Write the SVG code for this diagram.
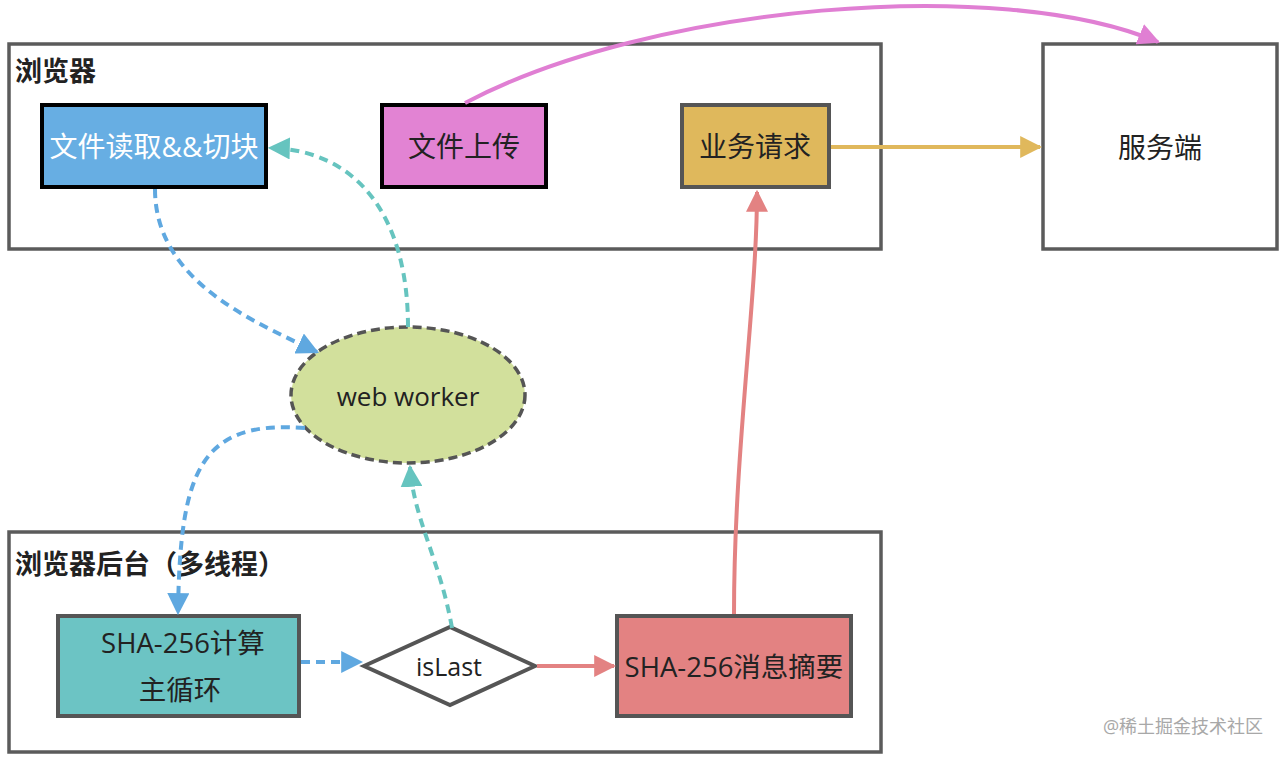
<svg xmlns="http://www.w3.org/2000/svg" width="1285" height="758" viewBox="0 0 1285 758">
<style>
text{font-family:"Open Sans","Noto Sans CJK SC",sans-serif;}
.title{font-size:27px;font-weight:bold;fill:#222;}
.lbl{font-size:28px;fill:#222;text-anchor:middle;dominant-baseline:central;}
.frame{fill:#fff;stroke:#5b5b5b;stroke-width:3.5;}
.node{stroke-width:4;}
.dash{fill:none;stroke-width:4;stroke-dasharray:9 6;}
</style>
<defs>
<marker id="aBlue" viewBox="0 0 10 10" refX="9" refY="5" markerWidth="5.5" markerHeight="5.5" orient="auto" markerUnits="strokeWidth"><path d="M0,0 L10,5 L0,10 z" fill="#5fa8e0"/></marker>
<marker id="aTeal" viewBox="0 0 10 10" refX="9" refY="5" markerWidth="5.5" markerHeight="5.5" orient="auto" markerUnits="strokeWidth"><path d="M0,0 L10,5 L0,10 z" fill="#66c4bf"/></marker>
<marker id="aRed" viewBox="0 0 10 10" refX="9" refY="5" markerWidth="5.5" markerHeight="5.5" orient="auto" markerUnits="strokeWidth"><path d="M0,0 L10,5 L0,10 z" fill="#e38282"/></marker>
<marker id="aGold" viewBox="0 0 10 10" refX="9" refY="5" markerWidth="5.5" markerHeight="5.5" orient="auto" markerUnits="strokeWidth"><path d="M0,0 L10,5 L0,10 z" fill="#e0b85c"/></marker>
<marker id="aPink" viewBox="0 0 10 10" refX="9" refY="5" markerWidth="5.5" markerHeight="5.5" orient="auto" markerUnits="strokeWidth"><path d="M0,0 L10,5 L0,10 z" fill="#e07fd3"/></marker>
</defs>

<g id="browser">
<rect class="frame" x="9" y="44" width="872" height="205"/>
<text class="title" x="15" y="81">浏览器</text>
</g>
<g id="browser-bg">
<rect class="frame" x="9" y="532" width="872" height="220"/>
<text class="title" x="15" y="574">浏览器后台（多线程）</text>
</g>

<g id="server">
<rect class="frame" x="1043" y="44" width="234" height="205" stroke-width="4"/>
<text class="lbl" x="1160" y="147">服务端</text>
</g>

<g id="file-read">
<rect class="node" x="42" y="105" width="224" height="82" fill="#67aee3" stroke="#000"/>
<text class="lbl" x="154" y="146" style="fill:#fff">文件读取&amp;&amp;切块</text>
</g>
<g id="file-upload">
<rect class="node" x="382" y="105" width="164" height="82" fill="#e283d3" stroke="#000"/>
<text class="lbl" x="464" y="146">文件上传</text>
</g>
<g id="biz-request">
<rect class="node" x="682" y="105" width="147" height="82" fill="#dfb85c" stroke="#555"/>
<text class="lbl" x="755" y="146">业务请求</text>
</g>

<g id="web-worker">
<ellipse cx="408" cy="395" rx="117" ry="68" fill="#d2e09c" stroke="#555" stroke-width="3.5" stroke-dasharray="9 5"/>
<text class="lbl" x="408" y="396" style="font-size:26px">web worker</text>
</g>

<g id="sha-loop">
<rect class="node" x="58" y="616" width="241" height="100" fill="#6cc4c4" stroke="#555"/>
<text class="lbl" x="183" y="642" style="font-size:27.5px">SHA-256计算</text>
<text class="lbl" x="180" y="689" style="font-size:27.5px">主循环</text>
</g>
<g id="is-last">
<polygon points="364,666 450,627 535,666 450,705" fill="#fff" stroke="#555" stroke-width="4"/>
<text class="lbl" x="449" y="666" style="font-size:25px">isLast</text>
</g>
<g id="sha-digest">
<rect class="node" x="617" y="616" width="234" height="100" fill="#e38282" stroke="#555"/>
<text class="lbl" x="734" y="666" style="font-size:27.5px">SHA-256消息摘要</text>
</g>

<g id="connectors">
<path d="M465,103 C 650,5 1000,-25 1158,42" fill="none" stroke="#e07fd3" stroke-width="4" marker-end="url(#aPink)"/>
<path d="M831,147 L1040,147" fill="none" stroke="#e0b85c" stroke-width="4" marker-end="url(#aGold)"/>
<path d="M734,614 C 734,450 757,300 757,192" fill="none" stroke="#e38282" stroke-width="4" marker-end="url(#aRed)"/>
<path d="M537,666 L614,666" fill="none" stroke="#e38282" stroke-width="4" marker-end="url(#aRed)"/>
<path class="dash" d="M301,662 L361,662" stroke="#5fa8e0" marker-end="url(#aBlue)"/>
<path class="dash" d="M452,628 C 440,560 414,520 410,467" stroke="#66c4bf" marker-end="url(#aTeal)"/>
<path class="dash" d="M408,327 C 408,220 360,150 270,148" stroke="#66c4bf" marker-end="url(#aTeal)"/>
<path class="dash" d="M155,189 C 155,280 250,320 317,352" stroke="#5fa8e0" marker-end="url(#aBlue)"/>
<path class="dash" d="M305,428 C 200,420 180,470 178,613" stroke="#5fa8e0" marker-end="url(#aBlue)"/>
</g>

<text x="1183" y="726" style="font-size:18px;fill:#a8a8a8;text-anchor:middle;dominant-baseline:central">@稀土掘金技术社区</text>
</svg>
